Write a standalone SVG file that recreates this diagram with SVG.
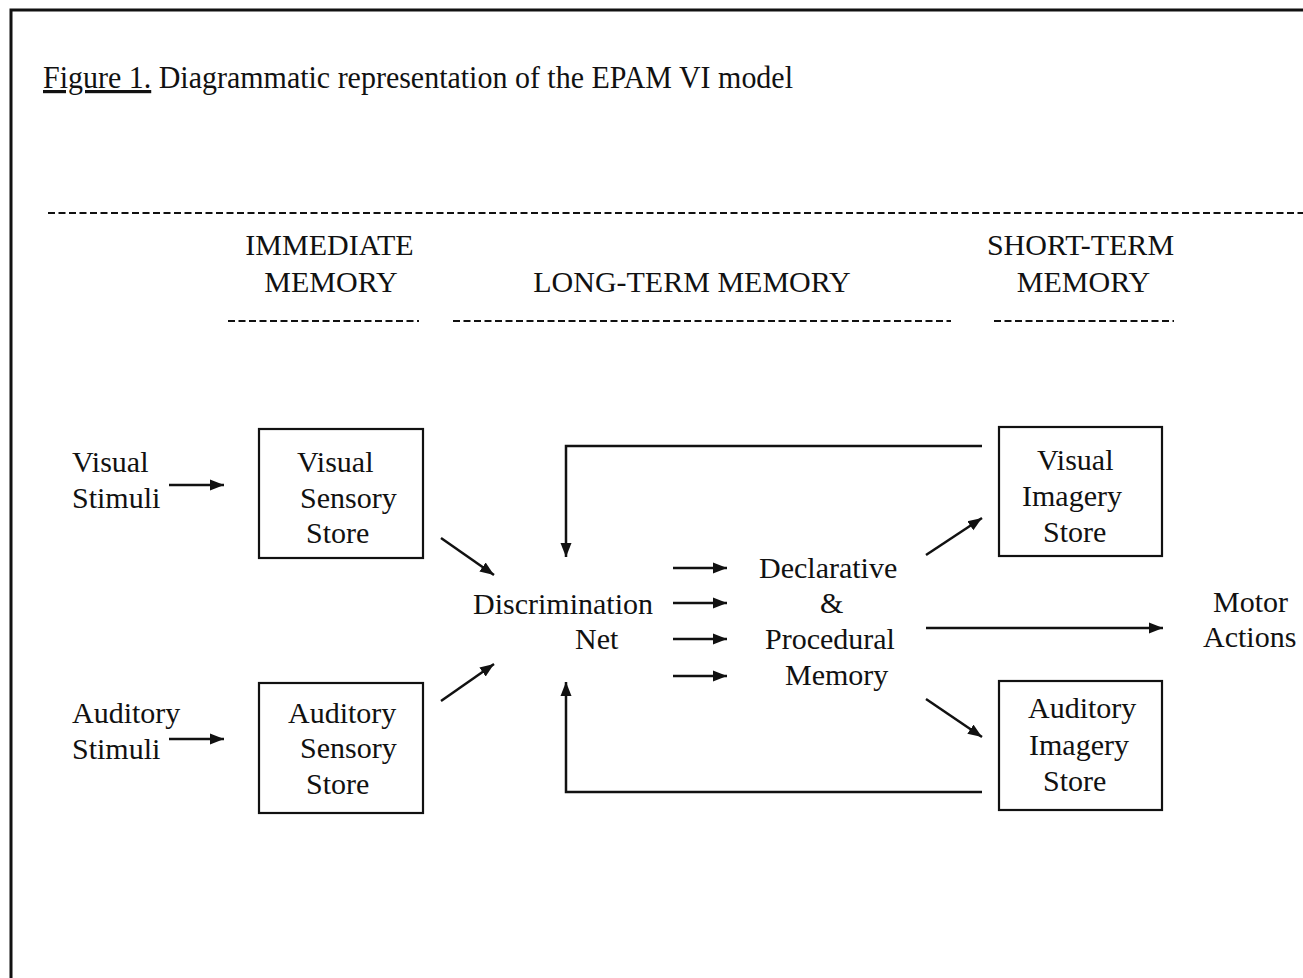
<svg xmlns="http://www.w3.org/2000/svg" width="1303" height="978" viewBox="0 0 1303 978">
  <style>
    text { font-family: "Liberation Serif", "Times New Roman", serif; fill: #111; }
    .title { font-size: 32px; }
    .hdr { font-size: 30px; }
    .lbl { font-size: 30px; }
    .box { fill: none; stroke: #111; stroke-width: 2.2; }
    .conn { fill: none; stroke: #111; stroke-width: 2.5; }
    .dash { fill: none; stroke: #111; stroke-width: 2; stroke-dasharray: 7 3.5; }
    .frame { fill: none; stroke: #111; stroke-width: 3; }
  </style>
  <defs>
    <marker id="arrow" markerUnits="userSpaceOnUse" markerWidth="15" markerHeight="12" refX="14" refY="6" orient="auto">
      <path d="M0,0.5 L14,6 L0,11.5 Z" fill="#111"/>
    </marker>
  </defs>

  <rect width="1303" height="978" fill="#fff"/>

  <!-- page frame (top and left edges) -->
  <path class="frame" d="M11,978 V10 H1303"/>

  <!-- caption -->
  <g id="caption">
    <text class="title" x="43" y="88" textLength="750" lengthAdjust="spacingAndGlyphs"><tspan text-decoration="underline">Figure 1.</tspan> Diagrammatic representation of the EPAM VI model</text>
  </g>

  <!-- memory headings -->
  <g id="headings">
    <line class="dash" x1="48" y1="213" x2="1303" y2="213"/>
    <text class="hdr" x="329.5" y="255" text-anchor="middle">IMMEDIATE</text>
    <text class="hdr" x="331" y="292" text-anchor="middle">MEMORY</text>
    <text class="hdr" x="692" y="292" text-anchor="middle">LONG-TERM MEMORY</text>
    <text class="hdr" x="1080.5" y="255" text-anchor="middle">SHORT-TERM</text>
    <text class="hdr" x="1083.5" y="292" text-anchor="middle">MEMORY</text>
    <line class="dash" x1="228" y1="321" x2="419" y2="321"/>
    <line class="dash" x1="453" y1="321" x2="951" y2="321"/>
    <line class="dash" x1="994" y1="321" x2="1174" y2="321"/>
  </g>

  <!-- inputs -->
  <g id="visual-stimuli">
    <text class="lbl" x="72" y="472">Visual</text>
    <text class="lbl" x="72" y="508">Stimuli</text>
  </g>
  <g id="auditory-stimuli">
    <text class="lbl" x="72" y="723">Auditory</text>
    <text class="lbl" x="72" y="759">Stimuli</text>
  </g>

  <!-- sensory stores -->
  <g id="visual-sensory-store">
    <rect class="box" x="259" y="429" width="164" height="129"/>
    <text class="lbl" x="297" y="472">Visual</text>
    <text class="lbl" x="300" y="508">Sensory</text>
    <text class="lbl" x="306" y="543">Store</text>
  </g>
  <g id="auditory-sensory-store">
    <rect class="box" x="259" y="683" width="164" height="130"/>
    <text class="lbl" x="288" y="723">Auditory</text>
    <text class="lbl" x="300" y="758">Sensory</text>
    <text class="lbl" x="306" y="794">Store</text>
  </g>

  <!-- long-term memory -->
  <g id="discrimination-net">
    <text class="lbl" x="473" y="614">Discrimination</text>
    <text class="lbl" x="575" y="649">Net</text>
  </g>
  <g id="declarative-procedural-memory">
    <text class="lbl" x="759" y="578">Declarative</text>
    <text class="lbl" x="820" y="613">&amp;</text>
    <text class="lbl" x="765" y="649">Procedural</text>
    <text class="lbl" x="785" y="685">Memory</text>
  </g>

  <!-- imagery stores -->
  <g id="visual-imagery-store">
    <rect class="box" x="999" y="427" width="163" height="129"/>
    <text class="lbl" x="1037" y="470">Visual</text>
    <text class="lbl" x="1022" y="506">Imagery</text>
    <text class="lbl" x="1043" y="542">Store</text>
  </g>
  <g id="auditory-imagery-store">
    <rect class="box" x="999" y="681" width="163" height="129"/>
    <text class="lbl" x="1028" y="718">Auditory</text>
    <text class="lbl" x="1029" y="755">Imagery</text>
    <text class="lbl" x="1043" y="791">Store</text>
  </g>

  <!-- output -->
  <g id="motor-actions">
    <text class="lbl" x="1213" y="612">Motor</text>
    <text class="lbl" x="1203" y="647">Actions</text>
  </g>

  <!-- connectors -->
  <g id="connectors">
    <line class="conn" x1="169" y1="485" x2="224" y2="485" marker-end="url(#arrow)"/>
    <line class="conn" x1="169" y1="739" x2="224" y2="739" marker-end="url(#arrow)"/>
    <line class="conn" x1="441" y1="538" x2="494" y2="575" marker-end="url(#arrow)"/>
    <line class="conn" x1="441" y1="701" x2="494" y2="664" marker-end="url(#arrow)"/>
    <polyline class="conn" points="982,446 566,446 566,557" marker-end="url(#arrow)"/>
    <polyline class="conn" points="982,792 566,792 566,682" marker-end="url(#arrow)"/>
    <line class="conn" x1="673" y1="568" x2="727" y2="568" marker-end="url(#arrow)"/>
    <line class="conn" x1="673" y1="603" x2="727" y2="603" marker-end="url(#arrow)"/>
    <line class="conn" x1="673" y1="639" x2="727" y2="639" marker-end="url(#arrow)"/>
    <line class="conn" x1="673" y1="676" x2="727" y2="676" marker-end="url(#arrow)"/>
    <line class="conn" x1="926" y1="555" x2="982" y2="518" marker-end="url(#arrow)"/>
    <line class="conn" x1="926" y1="699" x2="982" y2="737" marker-end="url(#arrow)"/>
    <line class="conn" x1="926" y1="628" x2="1163" y2="628" marker-end="url(#arrow)"/>
  </g>
</svg>
